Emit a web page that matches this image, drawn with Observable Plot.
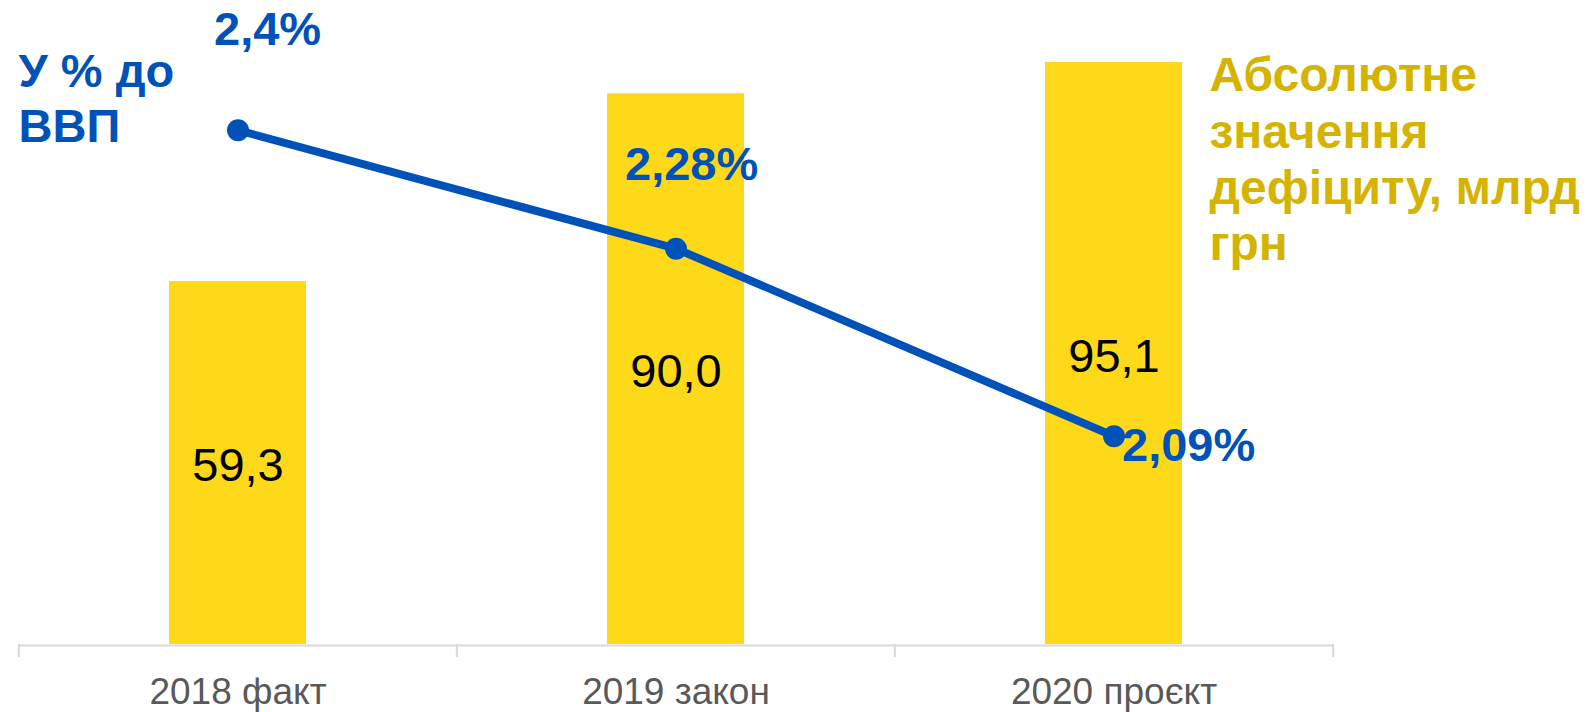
<!DOCTYPE html>
<html><head><meta charset="utf-8">
<script src="https://cdn.jsdelivr.net/npm/d3@7"></script>
<script src="https://cdn.jsdelivr.net/npm/@observablehq/plot@0.6"></script>
<style>body{margin:0;background:#fff} svg{display:block}</style>
</head><body><div id="chart"></div>
<script>
// ---- data ----
const categories = ["2018 факт", "2019 закон", "2020 проєкт"];
const deficitValues = [59.3, 90.0, 95.1];
const deficitLabels = ["59,3", "90,0", "95,1"];
const gdpShare = [2.4, 2.28, 2.09];
const gdpShareLabels = ["2,4%", "2,28%", "2,09%"];
const leftTitle = "У % до\nВВП";
const rightTitle = "Абсолютне\nзначення\nдефіциту, млрд\nгрн";

// ---- layout / style ----
const W = 1588, H = 712;
const mL = 18, mR = 255, mT = 32, mB = 68;
const BLUE = "#0052B9", GOLD = "#D4B400", YELLOW = "#FED91A";
const FONT = "'Liberation Sans', Arial, sans-serif";

const rows = categories.map((c, i) => ({
  cat: c, value: deficitValues[i], vLabel: deficitLabels[i],
  pct: gdpShare[i], pLabel: gdpShareLabels[i]
}));

// secondary (percent) axis mapped onto primary y domain
const pctScale = d3.scaleLinear().domain([1.879, 2.499]).range([0, 100]);
const step = (W - mL - mR) / categories.length;

const pctOffsets = [[-24, -100], [-51, -84], [8, 10]];

const chart = Plot.plot({
  width: W, height: H,
  marginLeft: mL, marginRight: mR, marginTop: mT, marginBottom: mB,
  style: {fontFamily: FONT, background: "#fff"},
  x: {type: "band", domain: categories, paddingInner: 0.687, paddingOuter: 0.3435, label: null},
  y: {domain: [0, 100], axis: null},
  marks: [
    Plot.barY(rows, {x: "cat", y: "value", fill: YELLOW}),
    Plot.ruleY([0], {stroke: "#D9D9D9", strokeWidth: 2, dy: 1}),
    Plot.ruleX(rows, {x: "cat", y1: 0, y2: 0, insetBottom: -13, dx: -step / 2, stroke: "#D9D9D9", strokeWidth: 2}),
    Plot.ruleX(rows.slice(-1), {x: "cat", y1: 0, y2: 0, insetBottom: -13, dx: step / 2, stroke: "#D9D9D9", strokeWidth: 2}),
    Plot.axisX({tickSize: 0, tickPadding: 33, fontSize: 37, fill: "#595959", label: null}),
    Plot.text(rows, {x: "cat", y: d => d.value / 2, text: "vLabel", fontSize: 47, fill: "#000", dy: 3}),
    Plot.line(rows, {x: "cat", y: d => pctScale(d.pct), stroke: BLUE, strokeWidth: 8}),
    Plot.dot(rows, {x: "cat", y: d => pctScale(d.pct), r: 11, fill: BLUE}),
    ...rows.map((r, i) => Plot.text([r], {
      x: "cat", y: d => pctScale(d.pct), text: "pLabel",
      textAnchor: "start", dx: pctOffsets[i][0], dy: pctOffsets[i][1],
      fontSize: 47, fontWeight: "bold", fill: BLUE
    })),
    Plot.text([leftTitle], {
      frameAnchor: "top-left", text: d => d, textAnchor: "start", lineAnchor: "top",
      dx: 0, dy: 16, fontSize: 47, fontWeight: "bold", fill: BLUE, lineHeight: 1.16
    }),
    Plot.text([rightTitle], {
      frameAnchor: "top-right", text: d => d, textAnchor: "start", lineAnchor: "top",
      dx: -124, dy: 19, fontSize: 48, fontWeight: "bold", fill: GOLD, lineHeight: 1.17
    })
  ]
});
document.getElementById("chart").appendChild(chart);
</script>
</body></html>
